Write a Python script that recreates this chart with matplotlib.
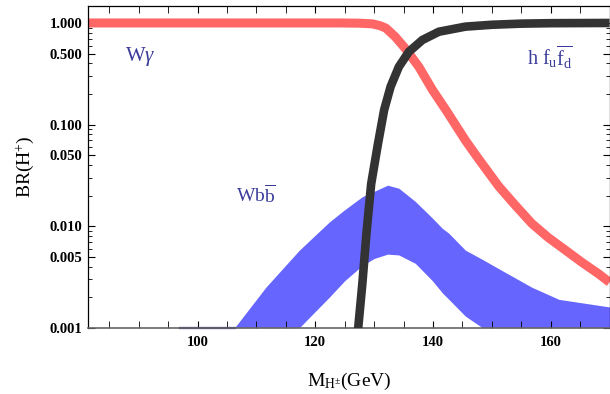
import matplotlib
matplotlib.use("Agg")
import matplotlib.pyplot as plt
from matplotlib.ticker import FixedLocator, LogLocator, NullFormatter, FixedFormatter

plt.rcParams['font.family'] = ['Liberation Serif', 'DejaVu Serif']
plt.rcParams['mathtext.fontset'] = 'custom'
plt.rcParams['mathtext.rm'] = 'Liberation Serif'
plt.rcParams['mathtext.it'] = 'Liberation Serif:italic'
plt.rcParams['mathtext.bf'] = 'Liberation Serif:bold'

# W gamma (red)
red_x = [81, 100, 115, 120, 124.1, 127.5, 129.7, 131.0, 132.0, 133.6, 135.3, 137.6,
         139.9, 142.2, 145.5, 147.5, 151.2, 154.0, 156.8, 159.6, 162.5, 165.3, 168.1, 170]
red_y = [1.0, 1.0, 1.0, 1.0, 1.0, 0.995, 0.98, 0.94, 0.89, 0.73, 0.56, 0.37,
         0.22, 0.139, 0.070, 0.048, 0.0245, 0.016, 0.0106, 0.0077, 0.0058, 0.0044, 0.0034, 0.0028]

# h f_u f_d (black)
black_x = [127.0, 127.3, 128.0, 128.7, 129.5, 130.6, 131.7, 132.8, 134.2, 135.9,
           138.2, 141.0, 145.5, 150, 155, 160, 170]
black_y = [0.0008, 0.001, 0.0027, 0.0085, 0.026, 0.062, 0.139, 0.236, 0.37, 0.52,
           0.68, 0.82, 0.92, 0.96, 0.985, 0.995, 1.0]

# W b bbar band (blue)
blue_x = [106.3, 111.6, 117.3, 122.4, 125, 128, 130, 132.3, 134.2, 137.0, 139.9,
          141.6, 142.7, 145.5, 148.4, 151.2, 156.8, 161.4, 170]
blue_hi = [0.001, 0.0025, 0.0058, 0.011, 0.0145, 0.0195, 0.022, 0.0253, 0.0236, 0.0175, 0.012,
           0.0095, 0.0085, 0.0058, 0.0047, 0.0038, 0.0025, 0.0019, 0.0016]
blue_lo = [0.001, 0.001, 0.001, 0.0020, 0.0029, 0.0041, 0.0048, 0.0053, 0.0052, 0.0043, 0.0029,
           0.0022, 0.0019, 0.0013, 0.001, 0.001, 0.001, 0.001, 0.001]
base_x = [97, 106.3]
base_y = [0.001, 0.001]

ytick_vals = [0.001, 0.005, 0.01, 0.05, 0.1, 0.5, 1.0]
ytick_labels = ['0.001', '0.005', '0.010', '0.050', '0.100', '0.500', '1.000']
xtick_vals = [100, 120, 140, 160]

red = '#ff6666'
dark = '#333333'
blue = '#6666ff'
txtc = '#3b3b9b'

fig = plt.figure(figsize=(6.10, 3.94), dpi=100)
ax = fig.add_axes([0.1443, 0.1683, 0.855, 0.8173])
ax.set_yscale('log')
ax.set_xlim(81.4, 170)
ax.set_ylim(0.001, 1.48)

ax.fill_between(blue_x, blue_lo, blue_hi, color=blue, lw=0, zorder=1)
ax.plot(base_x, base_y, color='#333399', lw=1.6, zorder=1.5, clip_on=False)
ax.plot(red_x, red_y, color=red, lw=6.5, solid_capstyle='butt', solid_joinstyle='round', zorder=2)
ax.plot(black_x, black_y, color=dark, lw=6.2, solid_capstyle='butt', solid_joinstyle='round', zorder=3)

ax.text(90.2, 0.47, r'W$\gamma$', color=txtc, fontsize=15, ha='center', va='center')
ax.text(110.0, 0.020, r'Wb$\overline{\mathrm{b}}$', color=txtc, fontsize=14, ha='center', va='center')
ax.text(159.8, 0.46, r'h $\mathrm{f_u}\overline{\mathrm{f_d}}$', color=txtc, fontsize=14.5, ha='center', va='center')

ax.yaxis.set_major_locator(FixedLocator(ytick_vals))
ax.yaxis.set_major_formatter(FixedFormatter(ytick_labels))
ax.yaxis.set_minor_locator(LogLocator(base=10, subs=[2, 3, 4, 6, 7, 8, 9]))
ax.yaxis.set_minor_formatter(NullFormatter())
ax.xaxis.set_major_locator(FixedLocator(xtick_vals))
ax.xaxis.set_minor_locator(FixedLocator([v for v in range(85, 171, 5) if v % 20 != 0]))

ax.tick_params(which='both', direction='in', top=True, right=True)
ax.tick_params(which='major', length=5, width=0.8)
ax.tick_params(which='minor', length=3, width=0.6)
ax.tick_params(axis='x', which='minor', length=5)
for lab in ax.get_xticklabels() + ax.get_yticklabels():
    lab.set_fontweight('bold')
    lab.set_fontsize(10.5)
ax.tick_params(axis='x', pad=6)
ax.tick_params(axis='y', pad=4)

for s in ['left', 'top', 'right']:
    ax.spines[s].set_color('black')
    ax.spines[s].set_linewidth(0.9)
ax.spines['bottom'].set_color('#666666')
ax.spines['bottom'].set_linewidth(1.2)

ax.set_xlabel(r'M$_{\mathrm{H^{\pm}}}$(GeV)', fontsize=14)
ax.xaxis.set_label_coords(0.5, -0.135)
ax.set_ylabel(r'BR(H$^{+}$)', fontsize=14)
ax.yaxis.set_label_coords(-0.10, 0.5)

fig.savefig('out.png', dpi=100)
